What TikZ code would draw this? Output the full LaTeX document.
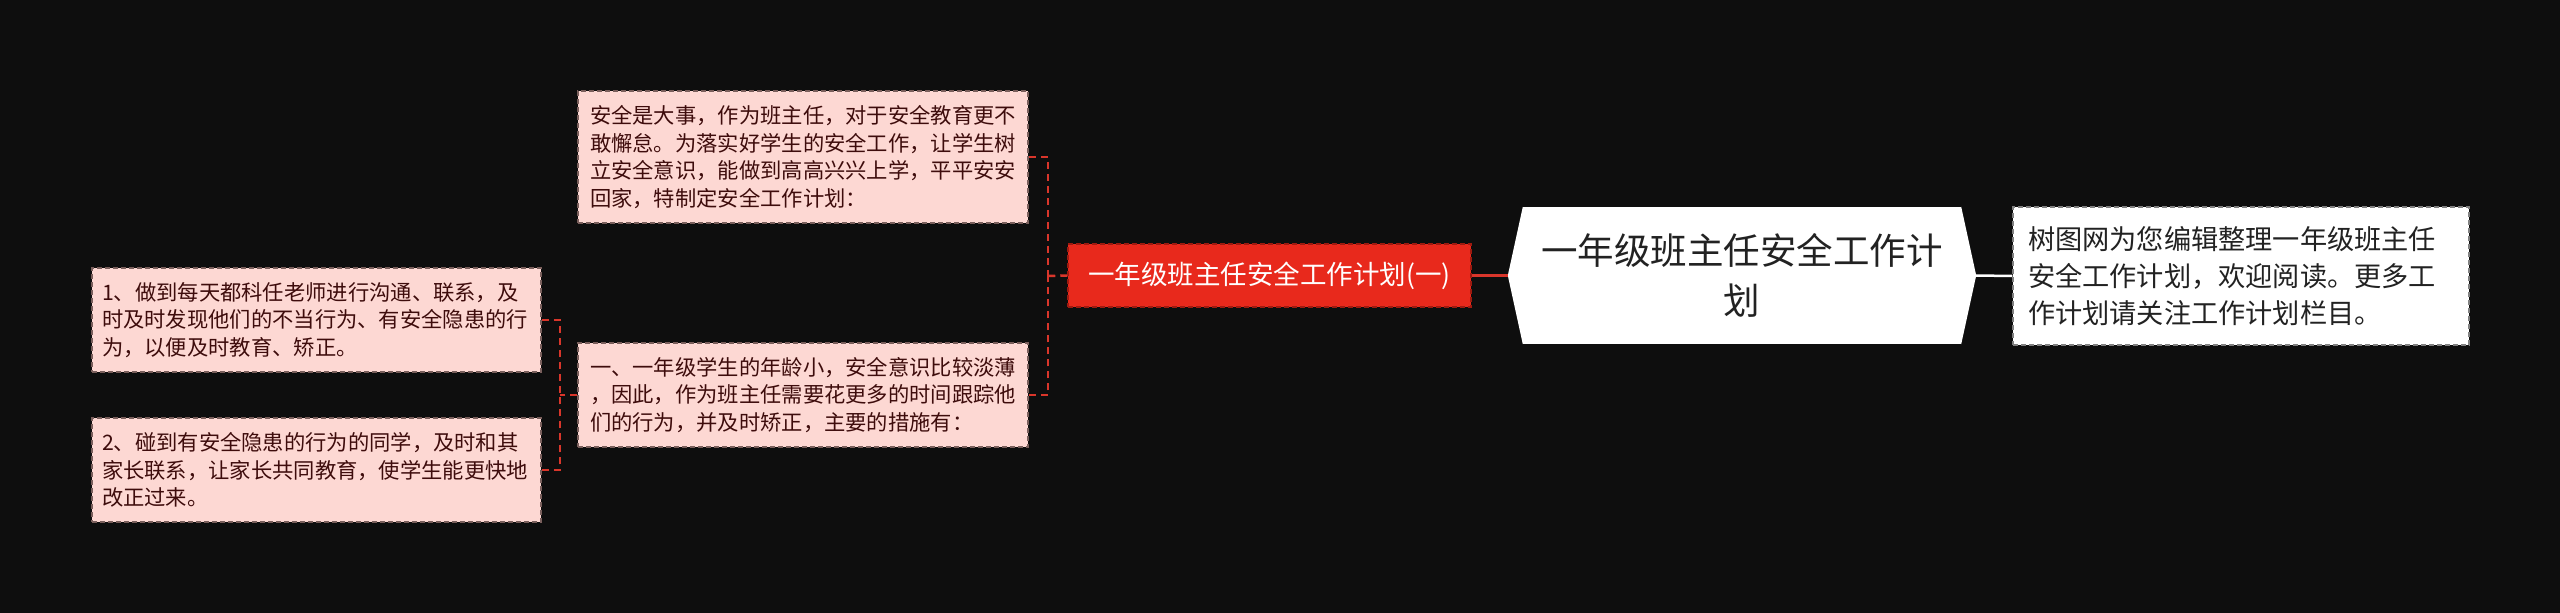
\documentclass[tikz,border=0pt]{standalone}
\usepackage{fontspec}
\newfontfamily\cjk{Noto Sans CJK SC}
\definecolor{bg}{HTML}{0E0E0E}
\definecolor{pinkfill}{HTML}{FDD8D3}
\definecolor{pinkedge}{HTML}{7A5F5C}
\definecolor{pinktext}{HTML}{3E0C0C}
\definecolor{redfill}{HTML}{E8291C}
\definecolor{rededge}{HTML}{9E1A10}
\definecolor{connred}{HTML}{D9362B}
\definecolor{roottext}{HTML}{222222}
\begin{document}
\begin{tikzpicture}[x=1pt,y=-1pt,
  pinkbox/.style={draw=pinkedge, fill=pinkfill, line width=1.5pt, dash pattern=on 5pt off 3pt,
    text=pinktext, inner sep=0pt, align=left,
    font={\cjk\fontsize{21.3}{27.5}\selectfont}},
  redbox/.style={draw=rededge, fill=redfill, line width=1.5pt, dash pattern=on 5pt off 3pt,
    text=white, inner sep=0pt, align=center,
    font={\cjk\fontsize{26.5}{32}\selectfont}},
  whitebox/.style={draw=gray, fill=white, line width=1.5pt, dash pattern=on 5pt off 3pt,
    text=roottext, inner sep=0pt, align=left,
    font={\cjk\fontsize{27.2}{37}\selectfont}},
  rootbox/.style={fill=white, text=roottext, inner sep=0pt, align=center,
    font={\cjk\fontsize{36.5}{50}\selectfont}},
  conn/.style={connred, line width=2.5pt, dash pattern=on 7pt off 5pt},
]
\fill[bg] (0,0) rectangle (2560,613);
\useasboundingbox (0,0) rectangle (2560,613);

% root hexagon
\node[rootbox, minimum width=438pt, minimum height=137pt] (root) at (1742,275.5)
  {一年级班主任安全工作计\\划};
\fill[white] (root.north west) -- ([xshift=-15pt]root.west) -- (root.south west) -- cycle;
\fill[white] (root.north east) -- ([xshift=15pt]root.east) -- (root.south east) -- cycle;
\coordinate (rootL) at ([xshift=-15pt]root.west);
\coordinate (rootR) at ([xshift=15pt]root.east);

\node[whitebox, minimum width=456pt, minimum height=138pt, text width=426pt] (right) at (2241,276)
  {树图网为您编辑整理一年级班主任\\安全工作计划，欢迎阅读。更多工\\作计划请关注工作计划栏目。};

\node[redbox, minimum width=403pt, minimum height=63pt] (red) at (1269.5,275.5)
  {一年级班主任安全工作计划(一)};

\node[pinkbox, minimum width=450pt, minimum height=132pt, text width=426pt] (top) at (803,157)
  {安全是大事，作为班主任，对于安全教育更不\\敢懈怠。为落实好学生的安全工作，让学生树\\立安全意识，能做到高高兴兴上学，平平安安\\回家，特制定安全工作计划：};

\node[pinkbox, minimum width=450pt, minimum height=104pt, text width=426pt] (mid) at (803,395)
  {一、一年级学生的年龄小，安全意识比较淡薄\\，因此，作为班主任需要花更多的时间跟踪他\\们的行为，并及时矫正，主要的措施有：};

\node[pinkbox, minimum width=449pt, minimum height=104pt, text width=429pt] (l1) at (316.5,320)
  {1、做到每天都科任老师进行沟通、联系，及\\时及时发现他们的不当行为、有安全隐患的行\\为，以便及时教育、矫正。};

\node[pinkbox, minimum width=449pt, minimum height=104pt, text width=429pt] (l2) at (316.5,470)
  {2、碰到有安全隐患的行为的同学，及时和其\\家长联系，让家长共同教育，使学生能更快地\\改正过来。};

% connectors
\draw[connred, line width=2.5pt] (rootL) -- (red.east);
\draw[white, line width=2.5pt] (rootR) -- (right.west);

\coordinate (b1) at (1048,276);
\draw[conn] (red.west) -- (b1);
\draw[conn] (top.east) -| (b1);
\draw[conn] (mid.east) -| (b1);

\coordinate (b2) at (560,395);
\draw[conn] (mid.west) -- (b2);
\draw[conn] (l1.east) -| (b2);
\draw[conn] (l2.east) -| (b2);
\end{tikzpicture}
\end{document}
